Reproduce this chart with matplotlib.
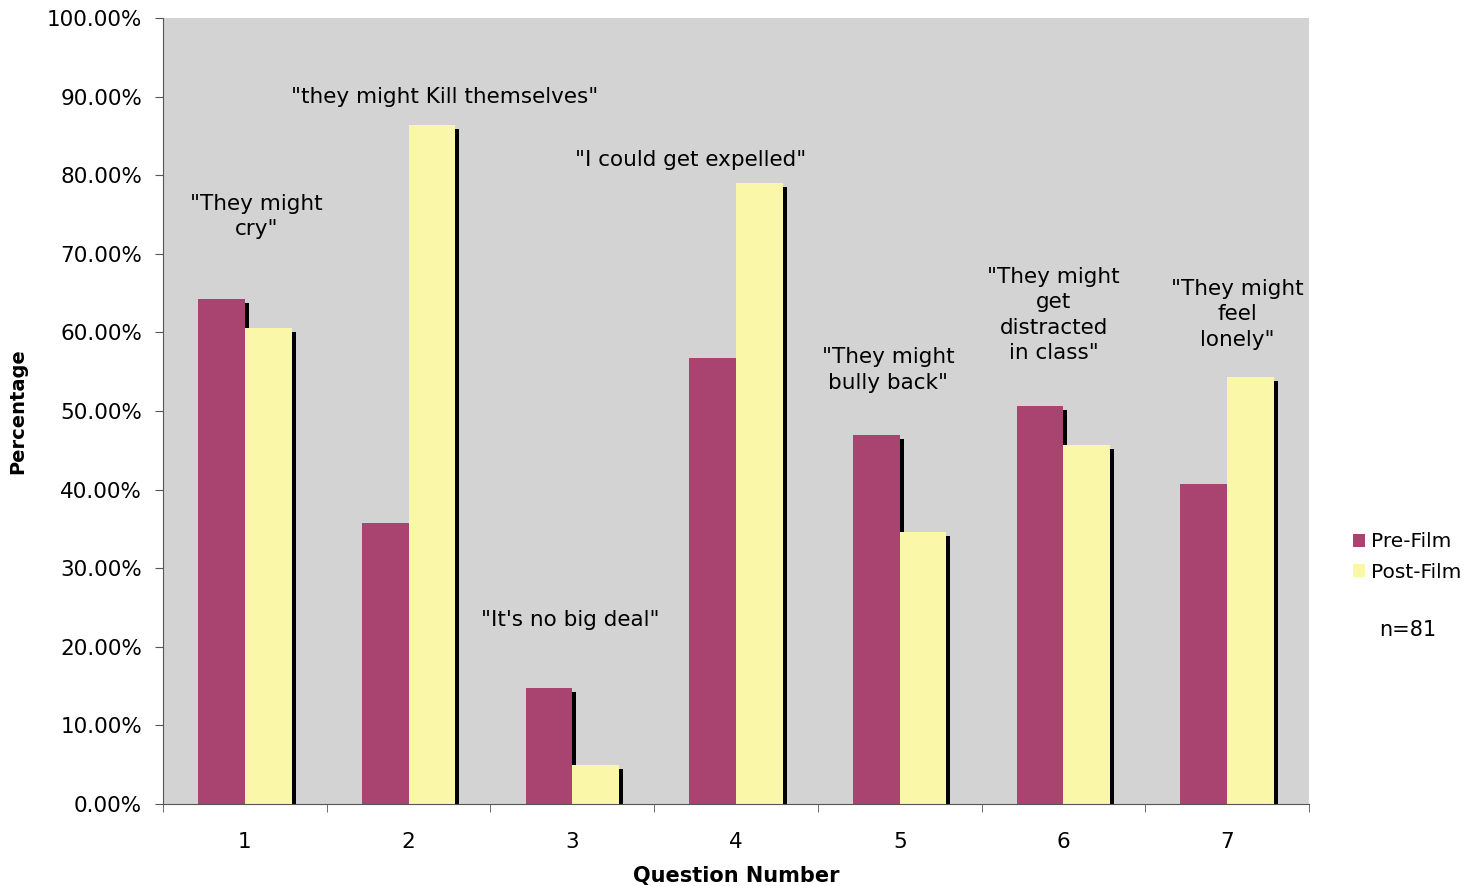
import matplotlib.pyplot as plt
from matplotlib.ticker import FuncFormatter, FixedLocator
import numpy as np

questions = ['1', '2', '3', '4', '5', '6', '7']
pre_film = [64.2, 35.8, 14.8, 56.8, 46.9, 50.6, 40.7]
post_film = [60.5, 86.4, 4.9, 79.0, 34.6, 45.7, 54.3]
notes = ['"They might\ncry"', '"they might Kill themselves"', '"It\'s no big deal"',
         '"I could get expelled"', '"They might\nbully back"',
         '"They might\nget\ndistracted\nin class"', '"They might\nfeel\nlonely"']
note_x = [0.07, 0.22, -0.01, -0.28, -0.07, -0.06, 0.06]
note_y = [74.7, 89.9, 23.4, 81.9, 55.2, 62.2, 62.3]

pre_col = '#A8446F'
post_col = '#FAF8A8'
fs = 15.5

fig = plt.figure(figsize=(14.81, 8.86), dpi=100)
ax = fig.add_axes([163/1481, 1-804/886, (1309-163)/1481, (804-18)/886])
ax.set_facecolor('#D3D3D3')

x = np.arange(len(questions))
w = 0.285
dx = 4/163.7
dy = 0.5

# drop shadows first
ax.bar(x - w/2 + dx, np.array(pre_film) - dy, w, color='black', zorder=1)
ax.bar(x + w/2 + dx, np.array(post_film) - dy, w, color='black', zorder=1)
b1 = ax.bar(x - w/2, pre_film, w, color=pre_col, zorder=2, label='Pre-Film')
b2 = ax.bar(x + w/2, post_film, w, color=post_col, zorder=2, label='Post-Film')

for i in range(len(questions)):
    ax.text(x[i] + note_x[i], note_y[i], notes[i], ha='center', va='center',
            fontsize=fs, linespacing=1.33)

ax.set_xlim(-0.5, 6.5)
ax.set_ylim(0, 100)
ax.set_xticks(x)
ax.set_xticklabels(questions)
ax.xaxis.set_minor_locator(FixedLocator(np.arange(-0.5, 7, 1)))
ax.tick_params(axis='x', which='major', length=0, pad=20, labelsize=fs)
ax.tick_params(axis='x', which='minor', length=6, direction='out', color='#555555')
ax.set_yticks(np.arange(0, 101, 10))
ax.yaxis.set_major_formatter(FuncFormatter(lambda v, p: '%.2f%%' % v))
ax.tick_params(axis='y', length=6, pad=9, labelsize=fs, color='#555555')

for s in ['top', 'right']:
    ax.spines[s].set_visible(False)
ax.spines['left'].set_color('#555555')
ax.spines['bottom'].set_color('#555555')

ax.set_xlabel('Question Number', fontsize=15, fontweight='bold', labelpad=10)
ax.set_ylabel('Percentage', fontsize=14, fontweight='bold', labelpad=14)

fig.legend(handles=[b1, b2], loc='center left', bbox_to_anchor=(1345/1481, 1-557/886),
           frameon=False, fontsize=14.5, handlelength=0.6, handleheight=0.6,
           handletextpad=0.3, labelspacing=0.55, borderaxespad=0)
fig.text(1408/1481, 1-630/886, 'n=81', ha='center', va='center', fontsize=15)

fig.savefig('out.png', dpi=100)
